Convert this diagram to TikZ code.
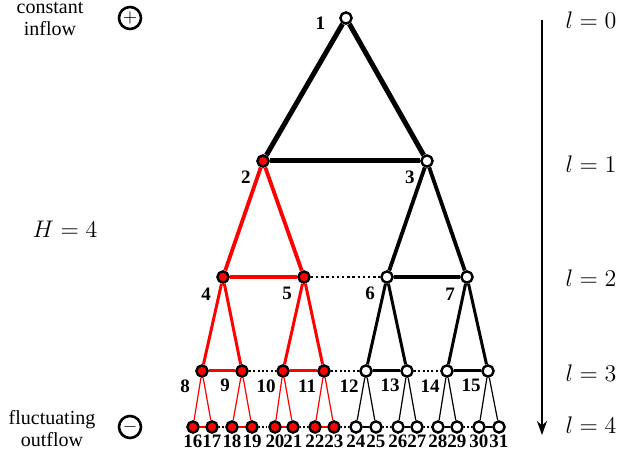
\documentclass[tikz,border=0pt]{standalone}
\usepackage{fontspec}
\setmainfont{Liberation Serif}
\usetikzlibrary{positioning, arrows.meta}

\begin{document}
\begin{tikzpicture}[
    x=0.5pt, y=-0.5pt,
    vertex/.style={
        circle,
        draw,
        line width=1.2pt,
        fill=white,
        inner sep=0pt,
        minimum size=5.6pt
    },
    redvertex/.style={
        vertex,
        fill=red
    },
    num/.style={
        font=\fontsize{9.5}{10}\selectfont\bfseries,
        inner sep=0pt,
        anchor=center
    },
    txt/.style={
        align=center,
        font=\fontsize{10}{11}\selectfont
    },
    sign/.style={
        circle,
        draw,
        line width=1.3pt,
        inner sep=0pt,
        minimum size=11pt,
        font=\fontsize{9}{9}\selectfont
    },
    level/.style={
        font=\fontsize{11.5}{13}\selectfont
    },
    edgeA/.style={line width=2.5pt},
    edgeB/.style={line width=1.9pt},
    edgeC/.style={line width=1.5pt},
    edgeD/.style={line width=0.6pt},
    gapB/.style={line width=1.4pt, dash pattern=on 1.2pt off 1.4pt},
    gapC/.style={line width=1.1pt, dash pattern=on 1pt off 1.2pt},
    gapD/.style={line width=0.7pt, dash pattern=on 0.7pt off 1pt},
    arrow/.style={
        line width=1pt,
        -{Stealth[length=7pt, width=5pt]}
    }
]
\useasboundingbox (0,0) rectangle (618,459);

% Tree nodes
\node[vertex, label={[num, xshift=-9.5pt, yshift=-1.5pt]195:1}] (n1) at (346,18) {};

\foreach \i/\x/\s in {2/263/redvertex, 3/427/vertex}
    \node[\s, label={[num, xshift=-6.2pt, yshift=-5.6pt]225:\i}] (n\i) at (\x,161) {};

\foreach \i/\x/\s in {4/223/redvertex, 5/304/redvertex, 6/387/vertex, 7/467/vertex}
    \node[\s, label={[num, xshift=-6pt, yshift=-6pt]225:\i}] (n\i) at (\x,277) {};

\foreach \i/\x/\s in {8/202/redvertex, 9/242/redvertex, 10/283/redvertex, 11/324/redvertex,
                      12/366/vertex, 13/407/vertex, 14/447/vertex, 15/488/vertex}
    \node[\s, label={[num, xshift=-6pt, yshift=-5pt]225:\i}] (n\i) at (\x,371) {};

\foreach \i/\x/\s in {16/193/redvertex, 17/212/redvertex, 18/232/redvertex, 19/252/redvertex,
                      20/275/redvertex, 21/293/redvertex, 22/315/redvertex, 23/334/redvertex,
                      24/356/vertex, 25/376/vertex, 26/398/vertex, 27/417/vertex,
                      28/438/vertex, 29/457/vertex, 30/479/vertex, 31/499/vertex}
    \node[\s, label={[num, yshift=-3.6pt]below:\i}] (n\i) at (\x,427) {};

% Side texts
\node[txt] (inflow) at (50,19) {constant\\inflow};
\node[sign] (plus) at (130,18) {$+$};
\node[txt] (outflow) at (52,429) {fluctuating\\outflow};
\node[sign] (minus) at (130,427) {$-$};
\node[level] (height) at (65,229) {$H=4$};

% Level axis
\coordinate (top) at (542,20);
\coordinate (bottom) at (542,435);
\foreach \l/\y in {0/20, 1/164, 2/278, 3/373, 4/425}
    \node[level] (l\l) at (591,\y) {$l=\l$};

% Edges
\draw[edgeA] (n1) -- (n2);
\draw[edgeA] (n1) -- (n3);
\draw[edgeA] (n2) -- (n3);

\foreach \p/\c [evaluate=\p as \a using int(2*\p), evaluate=\p as \b using int(2*\p+1)]
        in {2/red, 3/black} {
    \draw[edgeB, \c] (n\p) -- (n\a);
    \draw[edgeB, \c] (n\p) -- (n\b);
    \draw[edgeB, \c] (n\a) -- (n\b);
}
\draw[gapB] (n5) -- (n6);

\foreach \p/\c [evaluate=\p as \a using int(2*\p), evaluate=\p as \b using int(2*\p+1)]
        in {4/red, 5/red, 6/black, 7/black} {
    \draw[edgeC, \c] (n\p) -- (n\a);
    \draw[edgeC, \c] (n\p) -- (n\b);
    \draw[edgeC, \c] (n\a) -- (n\b);
}
\foreach \a/\b in {9/10, 11/12, 13/14}
    \draw[gapC] (n\a) -- (n\b);

\foreach \p/\c [evaluate=\p as \a using int(2*\p), evaluate=\p as \b using int(2*\p+1)]
        in {8/red, 9/red, 10/red, 11/red, 12/black, 13/black, 14/black, 15/black} {
    \draw[edgeD, \c] (n\p) -- (n\a);
    \draw[edgeD, \c] (n\p) -- (n\b);
    \draw[edgeD, \c, line width=1pt] (n\a) -- (n\b);
}
\foreach \a/\b in {17/18, 19/20, 21/22, 23/24, 25/26, 27/28, 29/30}
    \draw[gapD] (n\a) -- (n\b);

\draw[arrow] (top) -- (bottom);

\end{tikzpicture}
\end{document}
